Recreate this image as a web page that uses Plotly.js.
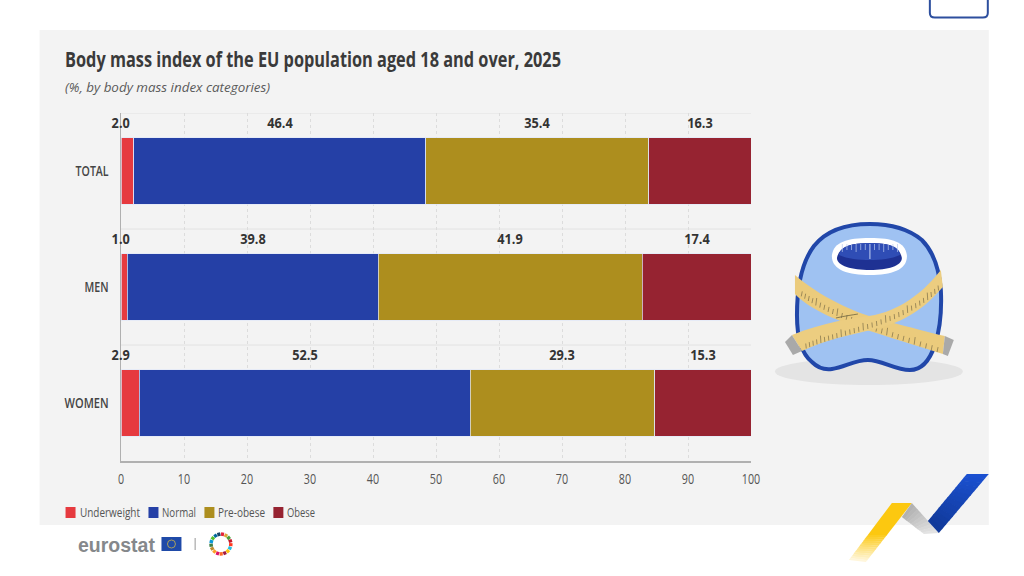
<!DOCTYPE html>
<html>
<head>
<meta charset="utf-8">
<script src="https://cdn.plot.ly/plotly-3.0.1.min.js"></script>
<style>html,body{margin:0;padding:0;background:#fff;overflow:hidden}#chart{width:1024px;height:576px}</style>
</head>
<body>
<div id="chart"></div>
<script>
// ---- data ----
var categories = ["TOTAL", "MEN", "WOMEN"];
var seriesNames = ["Underweight", "Normal", "Pre-obese", "Obese"];
var underweight = [2.0, 1.0, 2.9];
var normal = [46.4, 39.8, 52.5];
var preObese = [35.4, 41.9, 29.3];
var obese = [16.3, 17.4, 15.3];
var seriesColors = ["#e63a3f", "#2540a6", "#ad8e1e", "#962331"];
var xTicks = [0, 10, 20, 30, 40, 50, 60, 70, 80, 90, 100];
var titleText = "Body mass index of the EU population aged 18 and over, 2025";
var sdgColors = ["#e5243b","#dda63a","#4c9f38","#c5192d","#ff3a21","#26bde2","#fcc30b","#a21942","#fd6925","#dd1367","#fd9d24","#bf8b2e","#3f7e44","#0a97d9","#56c02b","#00689d","#19486a"];

// ---- layout helpers: page pixels to paper fractions ----
var W = 1024, H = 576, L = 120.5, R = 751, T = 113, B = 461;
function px(x){ return (x - L) / (R - L); }
function py(y){ return (B - y) / (B - T); }
function path(d){
  var i = 0;
  return d.replace(/-?\d+(\.\d+)?/g, function(n){
    var v = parseFloat(n), o = (i++ % 2 === 0) ? px(v) : py(v);
    return o.toFixed(5);
  });
}
function shape(d, fill, line, width, layer){
  return {type:"path", xref:"paper", yref:"paper", path:path(d), fillcolor:fill||"rgba(0,0,0,0)",
          line:{color:line||"rgba(0,0,0,0)", width:width||0}, layer:layer||"above"};
}
function rect(x0,y0,x1,y1,fill,layer){
  return {type:"rect", xref:"paper", yref:"paper", x0:px(x0), x1:px(x1), y0:py(y0), y1:py(y1),
          fillcolor:fill, line:{width:0}, layer:layer||"above"};
}
function mix(a,b,t){
  var c = [0,1,2].map(function(i){ return Math.round(a[i]+(b[i]-a[i])*t); });
  return "rgb("+c.join(",")+")";
}
function strips(a0,a1,b0,b1,c0,c1,n){
  var out = [];
  for (var i=0;i<n;i++){
    var t=i/n, u=(i+1.15)/n; if(u>1)u=1;
    var p=function(a,b,s){return [a[0]+(b[0]-a[0])*s, a[1]+(b[1]-a[1])*s];};
    var A=p(a0,a1,t),B2=p(a0,a1,u),C=p(b0,b1,u),D=p(b0,b1,t);
    out.push(shape("M"+A.join(" ")+" L"+B2.join(" ")+" L"+C.join(" ")+" L"+D.join(" ")+" Z", mix(c0,c1,t)));
  }
  return out;
}
function bez(p,t){
  var m=1-t;
  return [m*m*m*p[0][0]+3*m*m*t*p[1][0]+3*m*t*t*p[2][0]+t*t*t*p[3][0],
          m*m*m*p[0][1]+3*m*m*t*p[1][1]+3*m*t*t*p[2][1]+t*t*t*p[3][1]];
}
function tapeTicks(edge,n,len,dx){
  var s=[];
  for(var i=1;i<n;i++){
    var q=bez(edge,i/n), l=(i%5===0)?len*1.5:len;
    s.push(shape("M"+q[0].toFixed(1)+" "+q[1].toFixed(1)+" L"+(q[0]+dx).toFixed(1)+" "+(q[1]-l).toFixed(1),null,"#7d6f48",0.7));
  }
  return s;
}
var FONT = "Open Sans";

// ---- traces ----
var allSeries = [underweight, normal, preObese, obese];
var traces = allSeries.map(function(vals,i){
  return {type:"bar", orientation:"h", name:seriesNames[i], x:vals, y:categories,
          width:0.575, marker:{color:seriesColors[i], line:{color:"rgba(225,232,248,0.9)", width:0.8}},
          hoverinfo:"x+name", showlegend:false};
});

// ---- annotations ----
var annotations = [];
categories.forEach(function(cat,c){
  var cum = 0;
  allSeries.forEach(function(vals,s){
    var v = vals[c];
    annotations.push({x: s===0 ? 0 : cum + v/2, y:cat, xref:"x", yref:"y", yshift:49, text:v.toFixed(1),
      showarrow:false, xanchor:"center", yanchor:"middle",
      font:{family:FONT,size:15,color:"#333",weight:700}});
    cum += v;
  });
});
function pageText(x,y,text,font){
  return {xref:"paper", yref:"paper", x:px(x), y:py(y), text:text, showarrow:false,
          xanchor:"left", yanchor:"middle", align:"left", font:font};
}
annotations.push(pageText(62.5,87,"<i>(%, by body mass index categories)</i>",{family:FONT,size:13.4,color:"#5a5a5a"}));
var legendX = [[65,79],[148,162],[204,218],[273,287]];
seriesNames.forEach(function(n,i){
  annotations.push(pageText(legendX[i][1]-2,512,n,{family:FONT,size:13.5,color:"#555"}));
});
annotations.push(pageText(75,545,"eurostat",{family:"Liberation Sans",size:19.5,color:"#85888b",weight:700}));

// ---- shapes ----
var below = [ rect(39,30,989,525,"#f3f3f3","below") ];
categories.forEach(function(c,i){
  below.push({type:"line", xref:"paper", yref:"y", x0:0, x1:1, y0:i-0.5, y1:i-0.5, layer:"below", line:{color:"#e2e2e2", width:1}});
});
var deco = [];
deco.push(shape("M930 -6 L930 13 Q930 17.5 935 17.5 L983 17.5 Q988 17.5 988 13 L988 -6 Z","#ffffff","#2d4f9e",2));
legendX.forEach(function(l,i){ deco.push(rect(l[0],507,l[0]+10,518,seriesColors[i])); });
deco.push(rect(161,537,181,551,"#1f4aa8"));
deco.push({type:"circle",xref:"paper",yref:"paper",x0:px(167),x1:px(175),y0:py(540),y1:py(548),line:{color:"#c9b44a",width:0.8},fillcolor:"rgba(0,0,0,0)"});
deco.push(rect(194,538,195.5,550,"#b9b9b9"));
sdgColors.forEach(function(col,i){
  var a0=(i/17)*2*Math.PI-Math.PI/2, a1=((i+0.85)/17)*2*Math.PI-Math.PI/2, r=10, cx=220.5, cy=544;
  deco.push(shape("M"+(cx+r*Math.cos(a0)).toFixed(2)+" "+(cy+r*Math.sin(a0)).toFixed(2)+" L"+(cx+r*Math.cos(a1)).toFixed(2)+" "+(cy+r*Math.sin(a1)).toFixed(2),null,col,3.5));
});
deco.push({type:"circle",xref:"paper",yref:"paper",x0:px(775),x1:px(963),y0:py(358),y1:py(385),fillcolor:"#e4e4e4",line:{width:0}});
var body="M870 224 C838 224 822 236 814 246 C802 262 797 285 797 315 C797 340 803 355 812 362 C818 368 825 370 832 369 C845 367 855 360 868 360 C882 360 895 370 910 370 C922 370 930 360 935 345 C940 330 942 310 941 290 C939 265 932 250 922 240 C910 230 892 224 870 224 Z";
deco.push(shape(body,"#9fc2f2","#2147a9",4));
deco.push(shape("M870 238 C893 238 905 242 907 255 C908 270 892 275 870 275 C848 275 831 270 832 255 C834 242 847 238 870 238 Z","#ffffff"));
deco.push(shape("M870 243 C890 243 900 247 902 258 C902 266 888 270 870 270 C852 270 837 266 837 258 C839 247 850 243 870 243 Z","#1e3193"));
deco.push(shape("M870 243 C890 243 900 247 900 255 C892 259 880 260 870 260 C860 260 847 259 839 255 C840 247 850 243 870 243 Z","#2f4db5"));
for (var k=-6;k<=6;k++){
  var tx=870+k*4.6, len=(k===0)?15:(k%3===0?8:6);
  deco.push(shape("M"+tx+" 244 L"+tx+" "+(244+len),null,"#b9c8ee",k===0?1.1:0.7));
}
deco.push(shape("M795 275 C820 296 850 312 890 322 C910 327 930 333 945 336 L943 354 C925 348 900 341 870 331 C840 322 810 310 795 294 Z","#ebcb7c"));
deco.push(shape("M945 336 L954 340 L948 356 L943 354 Z","#a9a9a9"));
var tape1=[[798,294],[830,318],[885,335],[943,354]];
deco=deco.concat(tapeTicks(tape1,30,5,1));
deco.push(shape("M792 335 C825 322 850 319 875 315 C905 308 925 290 941 270 L943 287 C925 308 905 322 875 329 C850 335 825 340 802 351 Z","#eccd80"));
deco.push(shape("M792 335 L785 342 L793 355 L802 351 Z","#a9a9a9"));
var tape2=[[803,350],[840,333],[905,328],[942,287]];
deco=deco.concat(tapeTicks(tape2,34,5,-0.5));
deco.push(shape("M836 318 C845 316 852 315 858 314",null,"#6f6440",0.8));
// brand arrow
deco.push(shape("M892 503 L912 503 L888.6 533 L869.4 533 Z","#fcc810"));
deco=deco.concat(strips([888.6,533],[866,562],[869.4,533],[849,560],[252,200,16],[255,250,235],14));
deco=deco.concat(strips([912,503],[939,533],[902,517],[924,534],[178,178,178],[232,232,232],10));
deco=deco.concat(strips([989,474],[939,533],[967,474],[928,521],[27,80,208],[16,56,150],14));

var layout = {
  width:W, height:H, autosize:false,
  paper_bgcolor:"#ffffff", plot_bgcolor:"rgba(0,0,0,0)",
  margin:{l:L, r:W-R, t:T, b:H-B, pad:0, autoexpand:false},
  barmode:"stack", bargap:0.425, showlegend:false,
  title:{text:titleText, x:65/W, xanchor:"left", xref:"container",
         y:1-60/H, yanchor:"middle", font:{family:FONT,size:21,color:"#3a3a3a",weight:700}},
  xaxis:{range:[0,100], tickvals:xTicks, ticktext:xTicks.map(String), showgrid:true, gridcolor:"#dcdcdc", griddash:"dot", gridwidth:1,
         zeroline:false, showline:true, linecolor:"#b0b0b0", linewidth:1.5, ticks:"", ticklabelstandoff:4,
         tickfont:{family:FONT,size:14.5,color:"#555"}},
  yaxis:{type:"category", categoryorder:"array", categoryarray:categories, autorange:false, range:[2.5,-0.5],
         showgrid:false, zeroline:false, showline:true, linecolor:"#b0b0b0", linewidth:1.5, ticks:"", ticklabelstandoff:8,
         tickfont:{family:FONT,size:14.5,color:"#444",weight:600}},
  annotations:annotations,
  shapes:below.concat(deco)
};

// The reference uses a condensed face; no installed font has one, so the real text is
// narrowed to the widths measured in the picture.
var targetWidths = {TOTAL:33, MEN:24, WOMEN:44, Underweight:60, Normal:34, "Pre-obese":47, Obese:28};
targetWidths[titleText] = 496;
function condense(){
  document.querySelectorAll("#chart text").forEach(function(t){
    var s = t.textContent, w = t.getComputedTextLength(), target = targetWidths[s];
    if (target === undefined) {
      if (/^\d+\.\d$/.test(s)) target = w*0.85;
      else if (/^\d+$/.test(s)) target = w*0.74;
      else return;
    }
    t.setAttribute("textLength", target.toFixed(1));
    t.setAttribute("lengthAdjust", "spacingAndGlyphs");
  });
}
Plotly.newPlot("chart", traces, layout, {displayModeBar:false, responsive:false, staticPlot:true}).then(condense);
</script>
</body>
</html>
